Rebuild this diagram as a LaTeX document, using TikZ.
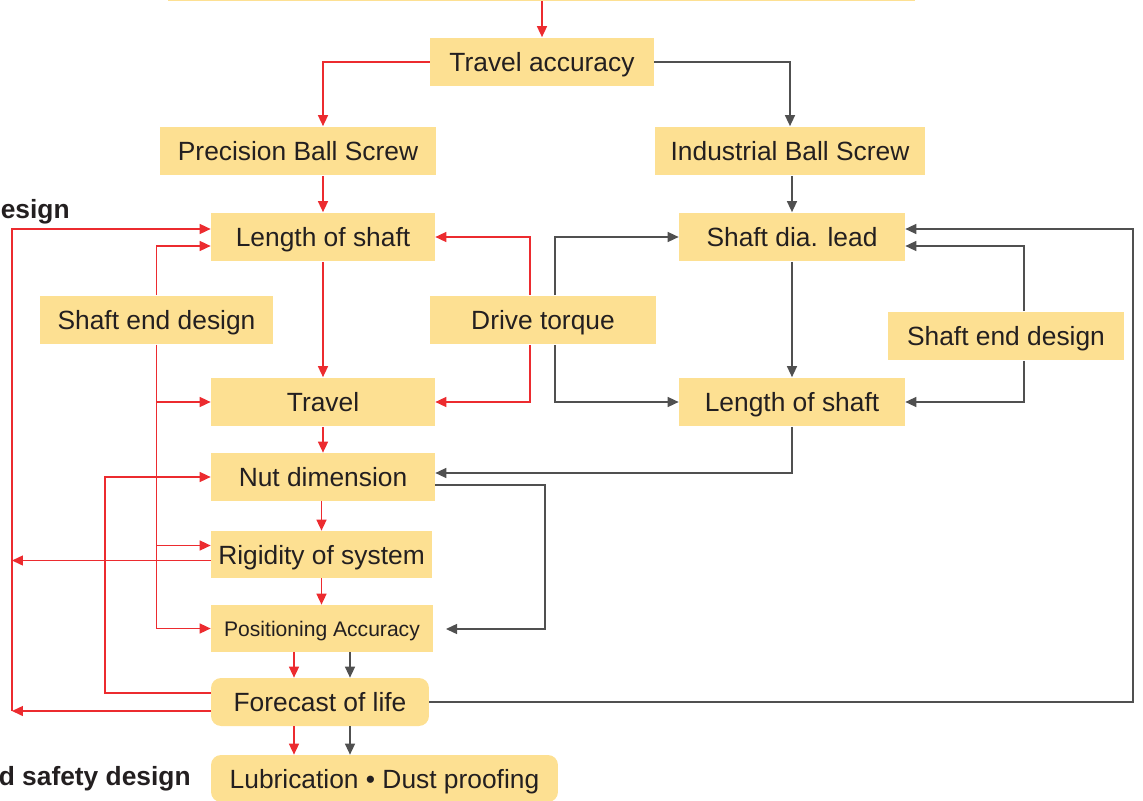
\documentclass[tikz,border=0pt]{standalone}
\usepackage{fontspec}
\setmainfont{Liberation Sans}
\usepackage{tikz}
\usetikzlibrary{positioning,calc,arrows.meta}
\definecolor{boxyellow}{RGB}{253,224,146}
\definecolor{fbred}{RGB}{236,43,47}
\definecolor{fbgray}{RGB}{80,80,80}
\definecolor{txtdark}{RGB}{35,31,32}

\begin{document}
\begin{tikzpicture}[x=0.02cm,y=-0.02cm,
	box/.style={fill=boxyellow,inner sep=0pt,minimum height=0.98cm,text height=0.38cm,text depth=0cm,text=txtdark,font=\fontsize{15}{18}\selectfont},
	roundbox/.style={box,rounded corners=0.2cm},
	red arrow/.style={draw=fbred,line width=0.85pt,-{Triangle[length=2.2mm,width=2mm]}},
	gray arrow/.style={draw=fbgray,line width=0.8pt,-{Triangle[length=2.2mm,width=2mm]}},
	side text/.style={anchor=east,inner sep=0pt,text=txtdark,font=\fontsize{15}{18}\selectfont\bfseries},
	]
	\useasboundingbox (0,0) rectangle (1143,801);
	\clip (0,0) rectangle (1143,801);
	%top row
	\node[box,minimum width=14.94cm] (top) at (541.5,-23.5) {};
	\node[box,minimum width=4.48cm] (acc) at (542,62) {Travel accuracy};
	\node[box,minimum width=5.52cm] (pbs) at (298,151) {Precision Ball Screw};
	\node[box,minimum width=5.42cm] (ibs) at (790,151) {Industrial Ball Screw};
	%precision side
	\node[box,minimum width=4.48cm] (lenL) at (323,237) {Length of shaft};
	\node[box,minimum width=4.66cm] (endL) at (156.5,320) {Shaft end design};
	\node[box,minimum width=4.48cm] (trav) at (323,402) {Travel};
	\node[box,minimum width=4.48cm,minimum height=0.96cm] (nut) at (323,477) {Nut dimension};
	\node[box,minimum width=4.42cm,minimum height=0.94cm] (rig) at (321.5,554.5) {Rigidity of system};
	\node[box,minimum width=4.44cm,minimum height=0.94cm,text height=0.3cm,font=\fontsize{12}{14}\selectfont] (pos) at (322,628.5) {Positioning Accuracy};
	\node[roundbox,minimum width=4.36cm,minimum height=0.96cm] (life) at (320,702) {Forecast of life};
	\node[roundbox,minimum width=6.94cm,minimum height=0.94cm] (lub) at (384.5,778.5) {Lubrication • Dust proofing};
	%industrial side
	\node[box,minimum width=4.52cm] (torque) at (543,320) {Drive torque};
	\node[box,minimum width=4.52cm] (dia) at (792,237) {Shaft dia. lead};
	\node[box,minimum width=4.52cm] (lenR) at (792,402) {Length of shaft};
	\node[box,minimum width=4.72cm] (endR) at (1006,336) {Shaft end design};
	%side labels
	\node[side text] (lblA) at (70,212) {esign};
	\node[side text] (lblB) at (191,779) {d safety design};
	%free ends
	\coordinate (fbL) at (12,711);
	\coordinate (fbN) at (105,693);
	\coordinate (fbR) at (1133,702);
	\coordinate (posin) at (446,629);

	%red connectors
	\draw[red arrow] (top.south -| acc) -- (acc.north);
	\draw[red arrow] (acc.west) -| (lenL |- pbs.north);
	\draw[red arrow] (pbs.south -| lenL) -- (lenL.north);
	\draw[red arrow] (lenL) -- (trav);
	\draw[red arrow] (trav) -- (nut);
	\draw[red arrow] (nut.south -| rig) -- (rig.north);
	\draw[red arrow] (rig.south -| rig) -- (rig.south |- pos.north);
	\draw[red arrow] ($(pos.south)+(-28,0)$) -- ($(life.north)+(-26,0)$);
	\draw[red arrow] ($(life.south)+(-26,0)$) -- (lub.north -| {$(life.south)+(-26,0)$});
	\draw[red arrow] ($(torque.north)+(-13,0)$) |- (lenL.east);
	\draw[red arrow] ($(torque.south)+(-13,0)$) |- (trav.east);
	\draw[red arrow] (endL.north) |- ($(lenL.west)+(0,9)$);
	\draw[red arrow] (endL.south) |- (trav.west);
	\draw[red arrow] (endL.south) |- ($(rig.west)+(0,-9)$);
	\draw[red arrow] (endL.south) |- (pos.west);
	\draw[red arrow] ($(life.west)+(0,9)$) -- (fbL);
	\draw[red arrow] ($(rig.west)+(0,6)$) -- ($(rig.west -| fbL)+(0,6)$);
	\draw[red arrow] (fbL) |- ($(lenL.west)+(0,-8)$);
	\draw[red arrow] ($(life.west)+(0,-9)$) -- (fbN) |- (nut.west);

	%gray connectors
	\draw[gray arrow] (acc.east) -| (ibs.north);
	\draw[gray arrow] (ibs.south -| dia) -- (dia.north);
	\draw[gray arrow] (dia) -- (lenR);
	\draw[gray arrow] ($(torque.north)+(12,0)$) |- (dia.west);
	\draw[gray arrow] ($(torque.south)+(12,0)$) |- (lenR.west);
	\draw[gray arrow] ($(endR.north)+(18,0)$) |- ($(dia.east)+(0,9)$);
	\draw[gray arrow] ($(endR.south)+(18,0)$) |- (lenR.east);
	\draw[gray arrow] (lenR.south) |- ($(nut.east)+(0,-4)$);
	\draw[gray arrow] ($(nut.east)+(0,8)$) -| ($(posin)+(99,0)$) -- (posin);
	\draw[gray arrow] ($(pos.south)+(28,0)$) -- ($(life.north)+(30,0)$);
	\draw[gray arrow] ($(life.south)+(30,0)$) -- (lub.north -| {$(life.south)+(30,0)$});
	\draw[gray arrow] (life.east) -- (fbR) |- ($(dia.east)+(0,-8)$);
\end{tikzpicture}
\end{document}
